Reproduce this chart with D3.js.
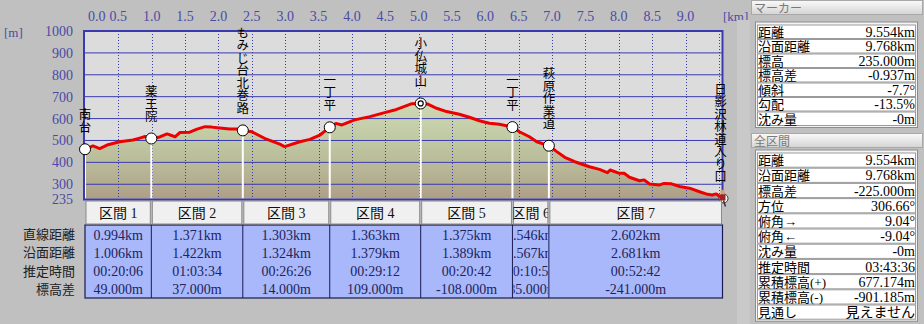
<!DOCTYPE html>
<html>
<head>
<meta charset="utf-8">
<script src="https://cdn.jsdelivr.net/npm/d3@7"></script>
<style>
body { margin: 0; background: #c0c0c0; }
svg { display: block; font-family: "Liberation Serif", "Noto Sans CJK JP", serif; }
.vert { font-family: "Noto Sans CJK JP", sans-serif; writing-mode: vertical-rl; text-orientation: upright; }
</style>
</head>
<body>
<svg id="chart" width="924" height="324"></svg>
<script>
// elevation profile (km, m)
const profileKm = [0, 0.12, 0.22, 0.33, 0.52, 0.72, 0.82, 0.90, 0.994, 1.12, 1.23, 1.35, 1.42, 1.57, 1.68, 1.80, 1.90, 2.02, 2.17, 2.28, 2.365,
  2.50, 2.69, 2.92, 2.99, 3.22, 3.37, 3.52, 3.668, 3.76, 3.85, 4.04, 4.27, 4.49, 4.64, 4.79, 4.90, 5.031, 5.13, 5.27, 5.42, 5.61, 5.76,
  5.91, 6.06, 6.21, 6.406, 6.51, 6.66, 6.77, 6.952, 7.07, 7.19, 7.34, 7.56, 7.71, 7.83, 7.87, 8.01, 8.08, 8.16, 8.31, 8.38, 8.46, 8.61,
  8.68, 8.79, 8.91, 9.06, 9.21, 9.31, 9.40, 9.46, 9.554];
const profileElev = [460, 475, 463, 479, 494, 502, 511, 518, 509, 516, 530, 517, 536, 538, 552, 563, 561, 557, 552, 552, 546,
  540, 510, 483, 472, 494, 505, 525, 560, 578, 571, 594, 609, 627, 639, 656, 668, 669, 667, 647, 632, 620, 606,
  590, 579, 574, 561, 540, 517, 494, 476, 449, 423, 403, 380, 368, 353, 365, 350, 350, 332, 316, 320, 301, 297,
  304, 302, 290, 282, 266, 256, 251, 256, 235];

const pointNames = ["南台", "薬王院", "もみじ台北巻路", "一丁平", "小仏城山", "一丁平", "萩原作業道", "日影沢林道入り口"];
const pointKm = [0, 0.994, 2.365, 3.668, 5.031, 6.406, 6.952, 9.554];
const pointElev = [460, 509, 546, 560, 669, 561, 476, 235];

const yTicks = [1000, 900, 800, 700, 600, 500, 400, 300, 235];
const xTicks = [0, 0.5, 1, 1.5, 2, 2.5, 3, 3.5, 4, 4.5, 5, 5.5, 6, 6.5, 7, 7.5, 8, 8.5, 9];
const xGrid = [0.5, 1, 1.5, 2, 2.5, 3, 3.5, 4, 4.5, 5, 5.5, 6, 6.5, 7, 7.5, 8, 8.5, 9, 9.5];

const sectionNames = ["区間 1", "区間 2", "区間 3", "区間 4", "区間 5", "区間 6", "区間 7"];
const rowLabels = ["直線距離", "沿面距離", "推定時間", "標高差"];
const straightDist = ["0.994km", "1.371km", "1.303km", "1.363km", "1.375km", "0.546km", "2.602km"];
const surfaceDist = ["1.006km", "1.422km", "1.324km", "1.379km", "1.389km", "0.567km", "2.681km"];
const estTime = ["00:20:06", "01:03:34", "00:26:26", "00:29:12", "00:20:42", "00:10:54", "00:52:42"];
const elevDiff = ["49.000m", "37.000m", "14.000m", "109.000m", "-108.000m", "-85.000m", "-241.000m"];

const markerLabels = ["距離", "沿面距離", "標高", "標高差", "傾斜", "勾配", "沈み量"];
const markerValues = ["9.554km", "9.768km", "235.000m", "-0.937m", "-7.7°", "-13.5%", "-0m"];
const totalLabels = ["距離", "沿面距離", "標高差", "方位", "俯角→", "俯角←", "沈み量", "推定時間", "累積標高(+)", "累積標高(-)", "見通し"];
const totalValues = ["9.554km", "9.768km", "-225.000m", "306.66°", "9.04°", "-9.04°", "-0m", "03:43:36", "677.174m", "-901.185m", "見えません"];

const svg = d3.select("#chart");
const plotL = 85, plotR = 722.5, plotT = 31, plotB = 198.5;
const blue = "#3a3ab0", tickCol = "#4a4aa6";

const x = d3.scaleLinear().domain([0, 9.554]).range([plotL, plotR]);
const y = d3.scaleLinear().domain([235, 1000]).range([plotB, plotT]);

const defs = svg.append("defs");
const grad = defs.append("linearGradient").attr("id", "fillGrad")
  .attr("gradientUnits", "userSpaceOnUse").attr("x1", 0).attr("x2", 0).attr("y1", 100).attr("y2", plotB);
[[0, "#cedab6"], [0.4, "#c0c9a2"], [0.72, "#b7b596"], [1, "#ae9f86"]].forEach(function (s) {
  grad.append("stop").attr("offset", s[0]).attr("stop-color", s[1]);
});
const btn = defs.append("linearGradient").attr("id", "btnGrad").attr("x1", 0).attr("x2", 0).attr("y1", 0).attr("y2", 1);
btn.append("stop").attr("offset", 0).attr("stop-color", "#fafafa");
btn.append("stop").attr("offset", 1).attr("stop-color", "#d4d4d4");

// plot background
svg.append("rect").attr("x", plotL).attr("y", plotT).attr("width", plotR - plotL).attr("height", plotB - plotT).attr("fill", "#dcdcdc");

const data = profileKm.map(function (k, i) { return { km: k, elev: profileElev[i] }; });

svg.append("path").datum(data)
  .attr("fill", "url(#fillGrad)")
  .attr("d", d3.area().x(d => x(d.km)).y0(plotB).y1(d => y(d.elev)));

// grid
svg.append("g").selectAll("line").data(yTicks.filter(v => v < 1000 && v > 235)).enter().append("line")
  .attr("x1", plotL).attr("x2", plotR).attr("y1", d => y(d)).attr("y2", d => y(d))
  .attr("stroke", blue).attr("stroke-width", 1);
svg.append("g").selectAll("line").data(xGrid).enter().append("line")
  .attr("x1", d => Math.round(x(d)) + 0.5).attr("x2", d => Math.round(x(d)) + 0.5).attr("y1", plotT).attr("y2", plotB)
  .attr("stroke", blue).attr("stroke-width", 1).attr("stroke-dasharray", "1,2");

// white drop lines from each point
svg.append("g").selectAll("line").data(pointKm.slice(0, -1)).enter().append("line")
  .attr("x1", d => x(d)).attr("x2", d => x(d))
  .attr("y1", (d, i) => y(pointElev[i])).attr("y2", plotB)
  .attr("stroke", "#ffffff").attr("stroke-width", 2);

// frame
svg.append("rect").attr("x", plotL - 1).attr("y", plotT).attr("width", plotR - plotL + 1).attr("height", plotB - plotT + 1)
  .attr("fill", "none").attr("stroke", blue).attr("stroke-width", 2);

// profile line
svg.append("path").datum(data)
  .attr("fill", "none").attr("stroke", "#ee0000").attr("stroke-width", 3).attr("stroke-linejoin", "round")
  .attr("d", d3.line().x(d => x(d.km)).y(d => y(d.elev)));

// axis labels
svg.append("g").selectAll("text").data(yTicks).enter().append("text")
  .attr("x", 73).attr("y", d => y(d) + 5).attr("text-anchor", "end")
  .attr("font-size", 14).attr("fill", tickCol).text(d => d);
svg.append("g").selectAll("text").data(xTicks).enter().append("text")
  .attr("x", d => d === 0 ? x(d) + 3 : x(d)).attr("y", 21)
  .attr("text-anchor", d => d === 0 ? "start" : "middle")
  .attr("font-size", 14).attr("fill", tickCol).text(d => d.toFixed(1));
svg.append("text").attr("x", 4).attr("y", 37).attr("font-size", 13).attr("fill", tickCol).text("[m]");
svg.append("text").attr("x", 723).attr("y", 21).attr("font-size", 13).attr("fill", tickCol).text("[km]");

// point markers with vertical names
pointKm.forEach(function (k, i) {
  const cx = x(k), cy = y(pointElev[i]);
  svg.append("text").attr("class", "vert")
    .attr("x", i === 7 ? cx - 2 : cx).attr("y", cy - 16)
    .attr("text-anchor", "end")
    .attr("font-size", 12.5).attr("fill", "#000").text(pointNames[i]);
  if (i === 7) return;
  svg.append("circle").attr("cx", cx).attr("cy", cy).attr("r", 5.5)
    .attr("fill", "#fff").attr("stroke", "#000").attr("stroke-width", 1);
  if (i === 4) {
    svg.append("circle").attr("cx", cx).attr("cy", cy).attr("r", 2.5)
      .attr("fill", "none").attr("stroke", "#000").attr("stroke-width", 1.2);
  }
});

// hiker icon at the end point
const hx = x(9.554), hy = y(235);
const hiker = svg.append("g").attr("transform", "translate(" + hx + "," + hy + ")");
hiker.append("circle").attr("cx", 1).attr("cy", 0).attr("r", 4.5).attr("fill", "#fff").attr("stroke", "#333");
hiker.append("rect").attr("x", -3).attr("y", -4).attr("width", 6).attr("height", 6).attr("fill", "#a82020");
hiker.append("circle").attr("cx", 0).attr("cy", -6.5).attr("r", 2.3).attr("fill", "#d8a070");
hiker.append("line").attr("x1", -1).attr("y1", 2).attr("x2", -3).attr("y2", 8).attr("stroke", "#333").attr("stroke-width", 1.5);
hiker.append("line").attr("x1", 1).attr("y1", 2).attr("x2", 3).attr("y2", 8).attr("stroke", "#333").attr("stroke-width", 1.5);

// section table
const bounds = [0].concat(pointKm.slice(1));
const headTop = 201, headH = 24, rowTop = 225, rowH = 18.25;
const tableRows = [straightDist, surfaceDist, estTime, elevDiff];

svg.append("rect").attr("x", plotL).attr("y", rowTop).attr("width", plotR - plotL).attr("height", rowH * 4)
  .attr("fill", "#a8b8fa").attr("stroke", "#1a1a50").attr("stroke-width", 1.2);

sectionNames.forEach(function (name, i) {
  const x0 = x(bounds[i]), x1 = x(bounds[i + 1]);
  const w = x1 - x0;
  svg.append("rect").attr("x", x0 + 1).attr("y", headTop).attr("width", w - 2).attr("height", headH - 1)
    .attr("fill", "#f0f0f0").attr("stroke", "#8a8a8a").attr("stroke-width", 1);
  defs.append("clipPath").attr("id", "clip" + i).append("rect")
    .attr("x", x0 + 1).attr("y", headTop).attr("width", w - 2).attr("height", headH + rowH * 4);
  const cell = svg.append("g").attr("clip-path", "url(#clip" + i + ")");
  cell.append("text").attr("x", (x0 + x1) / 2).attr("y", headTop + 17).attr("text-anchor", "middle")
    .attr("font-size", 14).attr("fill", "#111").text(name);
  tableRows.forEach(function (vals, r) {
    cell.append("text").attr("x", (x0 + x1) / 2).attr("y", rowTop + r * rowH + 14.5).attr("text-anchor", "middle")
      .attr("font-size", 14).attr("fill", "#23235a").text(vals[i]);
  });
  if (i > 0) {
    svg.append("line").attr("x1", x0).attr("x2", x0).attr("y1", rowTop).attr("y2", rowTop + rowH * 4)
      .attr("stroke", "#1a1a50").attr("stroke-width", 1);
  }
});
rowLabels.forEach(function (lab, r) {
  svg.append("text").attr("x", 75).attr("y", rowTop + r * rowH + 14)
    .attr("text-anchor", "end").attr("font-size", 13).attr("fill", "#222").text(lab);
});

// right panel
function panel(title, titleY, labels, values, boxTop, step) {
  svg.append("rect").attr("x", 751.5).attr("y", titleY + 0.5).attr("width", 171).attr("height", 14)
    .attr("fill", "url(#btnGrad)").attr("stroke", "#a8a8a8");
  svg.append("text").attr("x", 754).attr("y", titleY + 12.5).attr("font-size", 12)
    .attr("fill", "#7a7a7a").text(title);
  svg.append("rect").attr("x", 755.5).attr("y", boxTop - 2.5).attr("width", 162).attr("height", labels.length * step + 4)
    .attr("fill", "#f4f4f4").attr("stroke", "#8c8c8c");
  labels.forEach(function (lab, i) {
    const ry = boxTop + i * step;
    svg.append("rect").attr("x", 757.5).attr("y", ry + 0.5).attr("width", 158).attr("height", step - 1)
      .attr("fill", "#ffffff").attr("stroke", "#9a9a9a");
    svg.append("text").attr("x", 758).attr("y", ry + step - 2.5)
      .attr("font-size", 13).attr("fill", "#000").text(lab);
    svg.append("text").attr("x", 915).attr("y", ry + step - 2.5).attr("text-anchor", "end")
      .attr("font-size", 14).attr("fill", "#000").text(values[i]);
  });
}
svg.append("rect").attr("x", 737).attr("y", 20).attr("width", 13).attr("height", 304).attr("fill", "#c9c9c9");
panel("マーカー", 0, markerLabels, markerValues, 24.5, 14.5);
panel("全区間", 133, totalLabels, totalValues, 152.5, 15.2);
</script>
</body>
</html>
